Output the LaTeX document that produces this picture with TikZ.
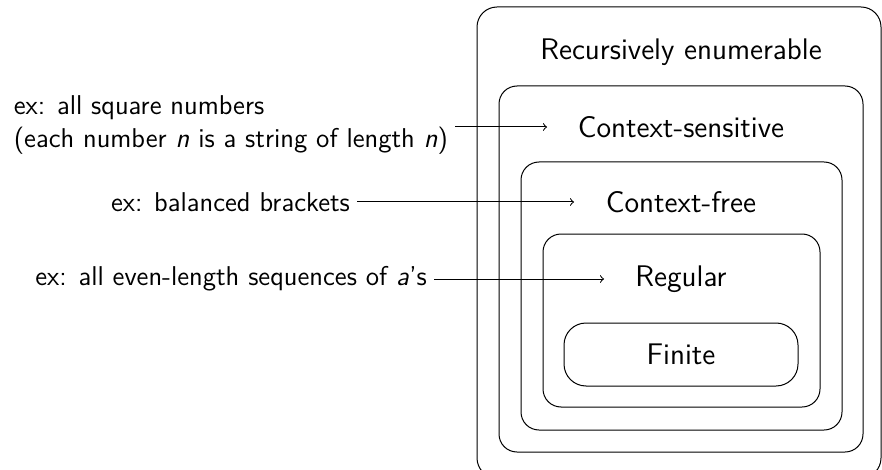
\documentclass[tikz,border=0pt]{standalone}
\usepackage{fontspec}
\begin{document}
\begin{tikzpicture}[x=0.5pt,y=-0.5pt,
  setbox/.style={draw, line width=0.5pt, rounded corners=9pt},
  big/.style={font=\sffamily\fontsize{14.9}{17}\selectfont, inner sep=0pt, anchor=base},
  small/.style={font=\sffamily\fontsize{13.6}{16.5}\selectfont},
  arr/.style={->, line width=0.5pt}]
\useasboundingbox (0,0) rectangle (882,470);
\begin{scope}
\clip (0,0) rectangle (882,470);
\draw[setbox, rounded corners=10pt] (477,7) rectangle (881,478);
\draw[setbox] (499,86) rectangle (863,452);
\draw[setbox] (521,162) rectangle (842,430);
\draw[setbox] (543,234) rectangle (820,407);
\draw[setbox, rounded corners=11pt] (564,323) rectangle (798,386);
\end{scope}
\node[big] (re) at (681,60) {Recursively enumerable};
\node[big] (cs) at (681,138) {Context-sensitive};
\node[big] (cf) at (681,213) {Context-free};
\node[big] (reg) at (681,286) {Regular};
\node[big] (fin) at (681,364) {Finite};
\node[small, align=left, anchor=east] (ex1) at (455,125)
  {ex: all square numbers\\(each number \textit{n} is a string of length \textit{n})};
\node[small, anchor=east] (ex2) at (357,202) {ex: balanced brackets};
\node[small, anchor=east] (ex3) at (434,279) {ex: all even-length sequences of \textit{a}'s};
\coordinate (csin) at (547,127);
\coordinate (cfin) at (574,202);
\coordinate (regin) at (604,279);
\draw[arr] ([yshift=-1pt]ex1.east) -- ([yshift=-1pt]ex1.east -| csin);
\draw[arr] (ex2.east) -- (ex2.east -| cfin);
\draw[arr] (ex3.east) -- (ex3.east -| regin);
\end{tikzpicture}
\end{document}
